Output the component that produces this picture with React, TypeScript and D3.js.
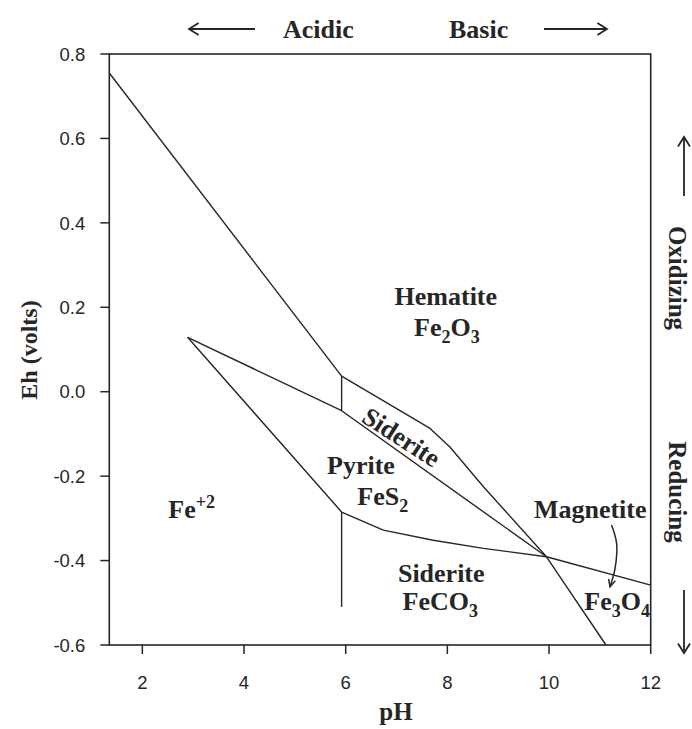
import React from "react";
import * as d3 from "d3";

const W = 692;
const H = 729;

// Axis domains and ticks
const PH_DOMAIN: [number, number] = [1.35, 12];
const EH_DOMAIN: [number, number] = [-0.6, 0.8];
const PH_TICKS = [2, 4, 6, 8, 10, 12];
const PH_TICK_LABELS = ["2", "4", "6", "8", "10", "12"];
const EH_TICKS = [0.8, 0.6, 0.4, 0.2, 0.0, -0.2, -0.4, -0.6];
const EH_TICK_LABELS = ["0.8", "0.6", "0.4", "0.2", "0.0", "-0.2", "-0.4", "-0.6"];

// Stability-field boundaries [pH, Eh]
const FE2_HEMATITE: [number, number][] = [[1.35, 0.755], [5.92, 0.037]];
const HEMATITE_SIDERITE: [number, number][] = [
  [5.92, 0.037], [7.66, -0.087], [8.05, -0.131], [8.71, -0.225], [9.95, -0.391], [11.12, -0.6],
];
const PYRITE_TOP: [number, number][] = [[2.89, 0.129], [5.92, -0.045], [9.95, -0.391]];
const PYRITE_BOTTOM: [number, number][] = [
  [2.89, 0.129], [5.92, -0.285], [6.74, -0.328], [7.72, -0.352], [8.71, -0.371], [9.95, -0.391], [12, -0.458],
];
const VERTICAL_UPPER: [number, number][] = [[5.92, 0.037], [5.92, -0.045]];
const VERTICAL_LOWER: [number, number][] = [[5.92, -0.285], [5.92, -0.51]];
const MAGNETITE_ARROW: [number, number][] = [[11.23, -0.316], [11.33, -0.36], [11.3, -0.418], [11.2, -0.462]];

// Field labels
type Lbl = { ph: number; eh: number; parts: [string, string][]; anchor?: string };
const FIELD_LABELS: Lbl[] = [
  { ph: 7.97, eh: 0.205, parts: [["n", "Hematite"]] },
  { ph: 7.99, eh: 0.132, parts: [["n", "Fe"], ["sub", "2"], ["n", "O"], ["sub", "3"]] },
  { ph: 6.3, eh: -0.195, parts: [["n", "Pyrite"]] },
  { ph: 6.73, eh: -0.269, parts: [["n", "FeS"], ["sub", "2"]] },
  { ph: 2.51, eh: -0.3, parts: [["n", "Fe"], ["sup", "+2"]], anchor: "start" },
  { ph: 10.81, eh: -0.3, parts: [["n", "Magnetite"]] },
  { ph: 7.88, eh: -0.451, parts: [["n", "Siderite"]] },
  { ph: 7.86, eh: -0.518, parts: [["n", "FeCO"], ["sub", "3"]] },
  { ph: 11.34, eh: -0.518, parts: [["n", "Fe"], ["sub", "3"], ["n", "O"], ["sub", "4"]] },
];
const BAND_LABEL = { ph: 7.1, eh: -0.107, text: "Siderite", rot: 33 };

const SERIF = "'Liberation Serif', 'Times New Roman', serif";
const SANS = "'Liberation Sans', Arial, sans-serif";
const INK = "#262626";

export default function App() {
  const x = d3.scaleLinear().domain(PH_DOMAIN).range([109.3, 650.7]);
  const y = d3.scaleLinear().domain(EH_DOMAIN).range([645, 54]);
  const line = d3.line<[number, number]>().x((d) => x(d[0])).y((d) => y(d[1]));
  const curve = d3
    .line<[number, number]>()
    .x((d) => x(d[0]))
    .y((d) => y(d[1]))
    .curve(d3.curveCatmullRom);

  const x0 = x(PH_DOMAIN[0]);
  const x1 = x(PH_DOMAIN[1]);
  const y0 = y(EH_DOMAIN[0]);
  const y1 = y(EH_DOMAIN[1]);

  const renderParts = (parts: [string, string][]) => {
    const out: React.ReactNode[] = [];
    let shift = 0;
    parts.forEach(([kind, t], i) => {
      let target = 0;
      if (kind === "sub") target = 7;
      if (kind === "sup") target = -10;
      const dy = target - shift;
      shift = target;
      out.push(
        <tspan key={i} dy={dy} fontSize={kind === "n" ? 26 : 18}>
          {t}
        </tspan>
      );
    });
    return out;
  };

  const arrowHead = (tx: number, ty: number, dir: "l" | "r" | "u" | "d", s = 7) => {
    let pts: [number, number][] = [];
    if (dir === "l") pts = [[tx + s * 1.6, ty - s], [tx, ty], [tx + s * 1.6, ty + s]];
    if (dir === "r") pts = [[tx - s * 1.6, ty - s], [tx, ty], [tx - s * 1.6, ty + s]];
    if (dir === "u") pts = [[tx - s, ty + s * 1.6], [tx, ty], [tx + s, ty + s * 1.6]];
    if (dir === "d") pts = [[tx - s, ty - s * 1.6], [tx, ty], [tx + s, ty - s * 1.6]];
    return <polyline points={pts.map((p) => p.join(",")).join(" ")} fill="none" stroke={INK} strokeWidth={1.8} />;
  };

  const arrowPts = MAGNETITE_ARROW;
  const last = arrowPts[arrowPts.length - 1];
  const prev = arrowPts[arrowPts.length - 2];
  const ang = Math.atan2(y(last[1]) - y(prev[1]), x(last[0]) - x(prev[0]));
  const ah = 8;
  const tipX = x(last[0]);
  const tipY = y(last[1]);
  const headA = [tipX - ah * Math.cos(ang - 0.45), tipY - ah * Math.sin(ang - 0.45)];
  const headB = [tipX - ah * Math.cos(ang + 0.45), tipY - ah * Math.sin(ang + 0.45)];

  return (
    <svg
      width={W}
      height={H}
      style={{ position: "absolute", left: 0, top: 0, background: "#fff" }}
      fontFamily={SERIF}
    >
      <rect width={W} height={H} fill="#fff" />

      {/* frame */}
      <rect x={x0} y={y1} width={x1 - x0} height={y0 - y1} fill="none" stroke={INK} strokeWidth={1.6} />

      {/* y ticks */}
      {EH_TICKS.map((t, i) => (
        <g key={"yt" + i}>
          <line x1={x0 - 9} x2={x0} y1={y(t)} y2={y(t)} stroke={INK} strokeWidth={1.5} />
          <text x={x0 - 24} y={y(t)} dy="0.36em" textAnchor="end" fontFamily={SANS} fontSize={18.5} fill={INK}>
            {EH_TICK_LABELS[i]}
          </text>
        </g>
      ))}

      {/* x ticks */}
      {PH_TICKS.map((t, i) => (
        <g key={"xt" + i}>
          <line x1={x(t)} x2={x(t)} y1={y0} y2={y0 + 9} stroke={INK} strokeWidth={1.5} />
          <text x={x(t)} y={y0 + 44} textAnchor="middle" fontFamily={SANS} fontSize={18.5} fill={INK}>
            {PH_TICK_LABELS[i]}
          </text>
        </g>
      ))}

      {/* axis titles */}
      <text x={396} y={720} textAnchor="middle" fontWeight="bold" fontSize={25} fill={INK}>
        pH
      </text>
      <text
        transform={`translate(37,${350}) rotate(-90)`}
        textAnchor="middle"
        fontWeight="bold"
        fontSize={24}
        fill={INK}
      >
        Eh (volts)
      </text>

      {/* boundaries */}
      {[FE2_HEMATITE, HEMATITE_SIDERITE, PYRITE_TOP, PYRITE_BOTTOM, VERTICAL_UPPER, VERTICAL_LOWER].map((d, i) => (
        <path key={"b" + i} d={line(d) || ""} fill="none" stroke={INK} strokeWidth={1.4} strokeLinejoin="round" />
      ))}

      {/* field labels */}
      {FIELD_LABELS.map((l, i) => (
        <text
          key={"fl" + i}
          x={x(l.ph)}
          y={y(l.eh)}
          textAnchor={l.anchor || "middle"}
          fontWeight="bold"
          fontSize={26}
          fill={INK}
        >
          {renderParts(l.parts)}
        </text>
      ))}
      <text
        transform={`translate(${x(BAND_LABEL.ph)},${y(BAND_LABEL.eh)}) rotate(${BAND_LABEL.rot})`}
        textAnchor="middle"
        dy="0.35em"
        fontWeight="bold"
        fontSize={26}
        fill={INK}
      >
        {BAND_LABEL.text}
      </text>

      {/* magnetite pointer */}
      <path d={curve(arrowPts) || ""} fill="none" stroke={INK} strokeWidth={1.5} />
      <polyline
        points={`${headA[0]},${headA[1]} ${tipX},${tipY} ${headB[0]},${headB[1]}`}
        fill="none"
        stroke={INK}
        strokeWidth={1.5}
      />

      {/* top direction labels */}
      <line x1={190} x2={255} y1={29} y2={29} stroke={INK} strokeWidth={1.8} />
      {arrowHead(189, 29, "l", 6)}
      <text x={283} y={38} fontWeight="bold" fontSize={26} fill={INK}>
        Acidic
      </text>
      <text x={449} y={38} fontWeight="bold" fontSize={26} fill={INK}>
        Basic
      </text>
      <line x1={544} x2={606} y1={29} y2={29} stroke={INK} strokeWidth={1.8} />
      {arrowHead(607, 29, "r", 6)}

      {/* right direction labels */}
      <line x1={684} x2={684} y1={138} y2={196} stroke={INK} strokeWidth={1.8} />
      {arrowHead(684, 137, "u", 6)}
      <text transform={`translate(669,278) rotate(90)`} textAnchor="middle" fontWeight="bold" fontSize={25} fill={INK}>
        Oxidizing
      </text>
      <text transform={`translate(669,492) rotate(90)`} textAnchor="middle" fontWeight="bold" fontSize={25} fill={INK}>
        Reducing
      </text>
      <line x1={684} x2={684} y1={590} y2={652} stroke={INK} strokeWidth={1.8} />
      {arrowHead(684, 653, "d", 6)}
    </svg>
  );
}
